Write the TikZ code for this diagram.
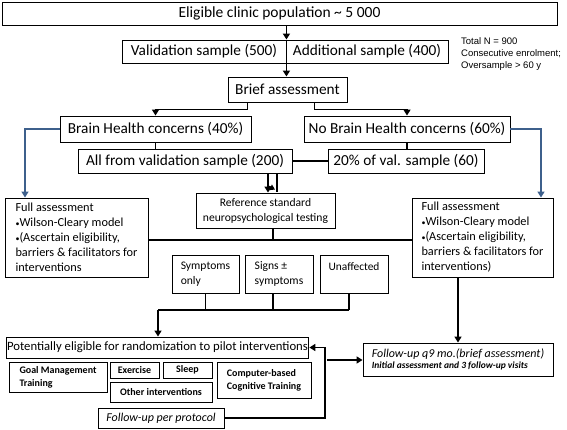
\documentclass[tikz,border=0pt]{standalone}
\usepackage{fontspec}
\setmainfont{Carlito}
\newfontfamily\arialf{Liberation Sans}
\usetikzlibrary{arrows.meta}
\definecolor{bluel}{RGB}{62,96,140}
\newcommand{\smbul}{{\fontsize{8}{8}\selectfont\textbullet}}
\tikzset{
  bx/.style={draw=black, line width=0.9pt, inner sep=1pt, align=center, fill=white},
  conn/.style={draw=black, line width=1.8pt},
  arr/.style={conn, -{Triangle[length=6pt,width=7pt]}},
  barr/.style={draw=bluel, line width=1.8pt, -{Triangle[length=6pt,width=7pt]}},
  big/.style={font=\fontsize{15.3}{17}\selectfont},
  lbox/.style={bx, align=left},
}
\begin{document}
\begin{tikzpicture}[x=1pt,y=-1pt]
\useasboundingbox (0,0) rectangle (567,430);
% nodes
\node[bx,font=\fontsize{15.5}{17}\selectfont,minimum width=555,minimum height=23] (top) at (279.5,13.5) {Eligible clinic population \textasciitilde{} 5 000};
\node[bx,big,minimum width=164,minimum height=23] (valA) at (204,51.5) {Validation sample (500)};
\node[bx,big,minimum width=162,minimum height=23] (valB) at (367,51.5) {Additional sample (400)};
\node[anchor=north west, align=left, inner sep=0, font=\arialf\fontsize{9.5}{12}\selectfont] (tot) at (461,37) {Total N = 900\\Consecutive enrolment;\\Oversample > 60 y};
\node[bx,big,minimum width=119,minimum height=25] (brief) at (287.5,89.5) {Brief assessment};
\node[bx,big,minimum width=191,minimum height=26] (brain) at (155.5,129) {Brain Health concerns (40\%)};
\node[bx,big,minimum width=206,minimum height=26] (nobrain) at (407,129) {No Brain Health concerns (60\%)};
\node[bx,big,minimum width=214,minimum height=24] (all) at (185,161) {All from validation sample (200)};
\node[bx,big,minimum width=156,minimum height=24] (twenty) at (406,161) {20\% of val. sample (60)};
\node[bx,minimum width=139,minimum height=35,font=\fontsize{11.6}{15}\selectfont] (ref) at (265.5,210.5) {Reference standard\\neuropsychological testing};
\node[lbox,minimum width=143,minimum height=79,font=\fontsize{12.3}{15}\selectfont] (lfull) at (76.5,237.5) {Full assessment\\\smbul Wilson-Cleary model\\\smbul(Ascertain eligibility,\\barriers \& facilitators for\\interventions};
\node[lbox,minimum width=141,minimum height=79,font=\fontsize{12.3}{15}\selectfont] (rfull) at (482.5,237.5) {Full assessment\\\smbul Wilson-Cleary model\\\smbul(Ascertain eligibility,\\barriers \& facilitators for\\interventions)};
\node[bx,minimum width=67,minimum height=38,font=\fontsize{11.6}{15}\selectfont, align=left] (sym) at (205.5,274) {Symptoms\\only};
\node[bx,minimum width=68,minimum height=38,font=\fontsize{11.6}{15}\selectfont, align=left] (signs) at (279,274) {Signs ±\\symptoms};
\node[bx,minimum width=68,minimum height=38,font=\fontsize{11.4}{15}\selectfont] (unaff) at (354,274) {Unaffected\\\mbox{}};
\node[bx,minimum width=299,minimum height=21,font=\fontsize{12.7}{15}\selectfont] (pot) at (157.5,347.5) {Potentially eligible for randomization to pilot interventions};
\node[lbox,minimum width=98,minimum height=30,font=\bfseries\fontsize{10}{13}\selectfont] (goal) at (58,377) {Goal Management\\Training};
\node[bx,minimum width=49,minimum height=16,font=\bfseries\fontsize{10}{12}\selectfont] (exer) at (134.5,370) {Exercise};
\node[bx,minimum width=49,minimum height=16,font=\bfseries\fontsize{10}{12}\selectfont] (sleep) at (187.5,370) {Sleep};
\node[bx,minimum width=102,minimum height=20,font=\bfseries\fontsize{10}{12}\selectfont] (other) at (161,392) {Other interventions};
\node[lbox,minimum width=94,minimum height=36,font=\bfseries\fontsize{10}{13}\selectfont] (comp) at (264,380) {Computer-based\\Cognitive Training};
\node[bx,minimum width=126,minimum height=20,font=\itshape\fontsize{12}{14}\selectfont] (fpp) at (161,418) {Follow-up per protocol};
\node[lbox,minimum width=190,minimum height=33] (fq9) at (458,359.5) {{\itshape\fontsize{12}{14}\selectfont Follow-up q9 mo.(brief assessment)}\\[-1pt]{\itshape\bfseries\fontsize{9.5}{12}\selectfont Initial assessment and 3 follow-up visits}};
% helper coordinates
\coordinate (bl) at (25,0);
\coordinate (br) at (541,0);
\coordinate (d1) at (268,0);
\coordinate (d2) at (277,0);
\coordinate (rv) at (273,240);
\coordinate (hb) at (158,310);
\coordinate (v2) at (273,0);
\coordinate (v3) at (349,0);
\coordinate (rx) at (325,0);
\coordinate (fs) at (327,360);
\coordinate (fx) at (458,0);
% connectors
\draw[arr] (top.south -| valA.east) -- (valA.north east);
\draw[arr] (valA.south east) -- (brief.north -| valA.south east);
\draw[arr] ([xshift=20pt]brief.south west) -- ++(0,7) -| (brain.north);
\draw[arr] ([xshift=-33pt]brief.south east) -- ++(0,7) -| (nobrain.north);
\draw[barr] (brain.west) -| (lfull.north -| bl);
\draw[barr] (nobrain.east) -| (rfull.north -| br);
\draw[conn] (brain.south) -- (brain.south |- all.north);
\draw[conn] (nobrain.south) -- (nobrain.south |- twenty.north);
\draw[conn] (all.east) -- (twenty.west);
\draw[arr] (all.south -| d1) -- (ref.north -| d1);
\draw[conn] (all.south -| d2) -- ([yshift=1pt]ref.north -| d2);
\draw[conn,-{Triangle[length=5pt,width=6pt]}] ([shift={(-8,-6)}]ref.north -| d2) -- ([shift={(-2,-3)}]ref.north -| d2);
\draw[conn] (ref.south -| rv) -- (rv);
\draw[conn] (lfull.east |- rv) -- (rfull.west |- rv);
\draw[conn] (sym.south) -- (sym.south |- hb);
\draw[conn] (signs.south -| v2) -- (hb -| v2);
\draw[conn] (unaff.south -| v3) -- (hb -| v3);
\draw[conn] (hb) -- (hb -| v3);
\draw[arr] (hb) -- (pot.north -| hb);
\draw[arr] (fpp.east) -| (rx |- pot.east) -- (pot.east);
\draw[arr] (fs) -- (fq9.west |- fs);
\draw[arr] (rfull.south -| fx) -- (fq9.north -| fx);
\end{tikzpicture}
\end{document}
